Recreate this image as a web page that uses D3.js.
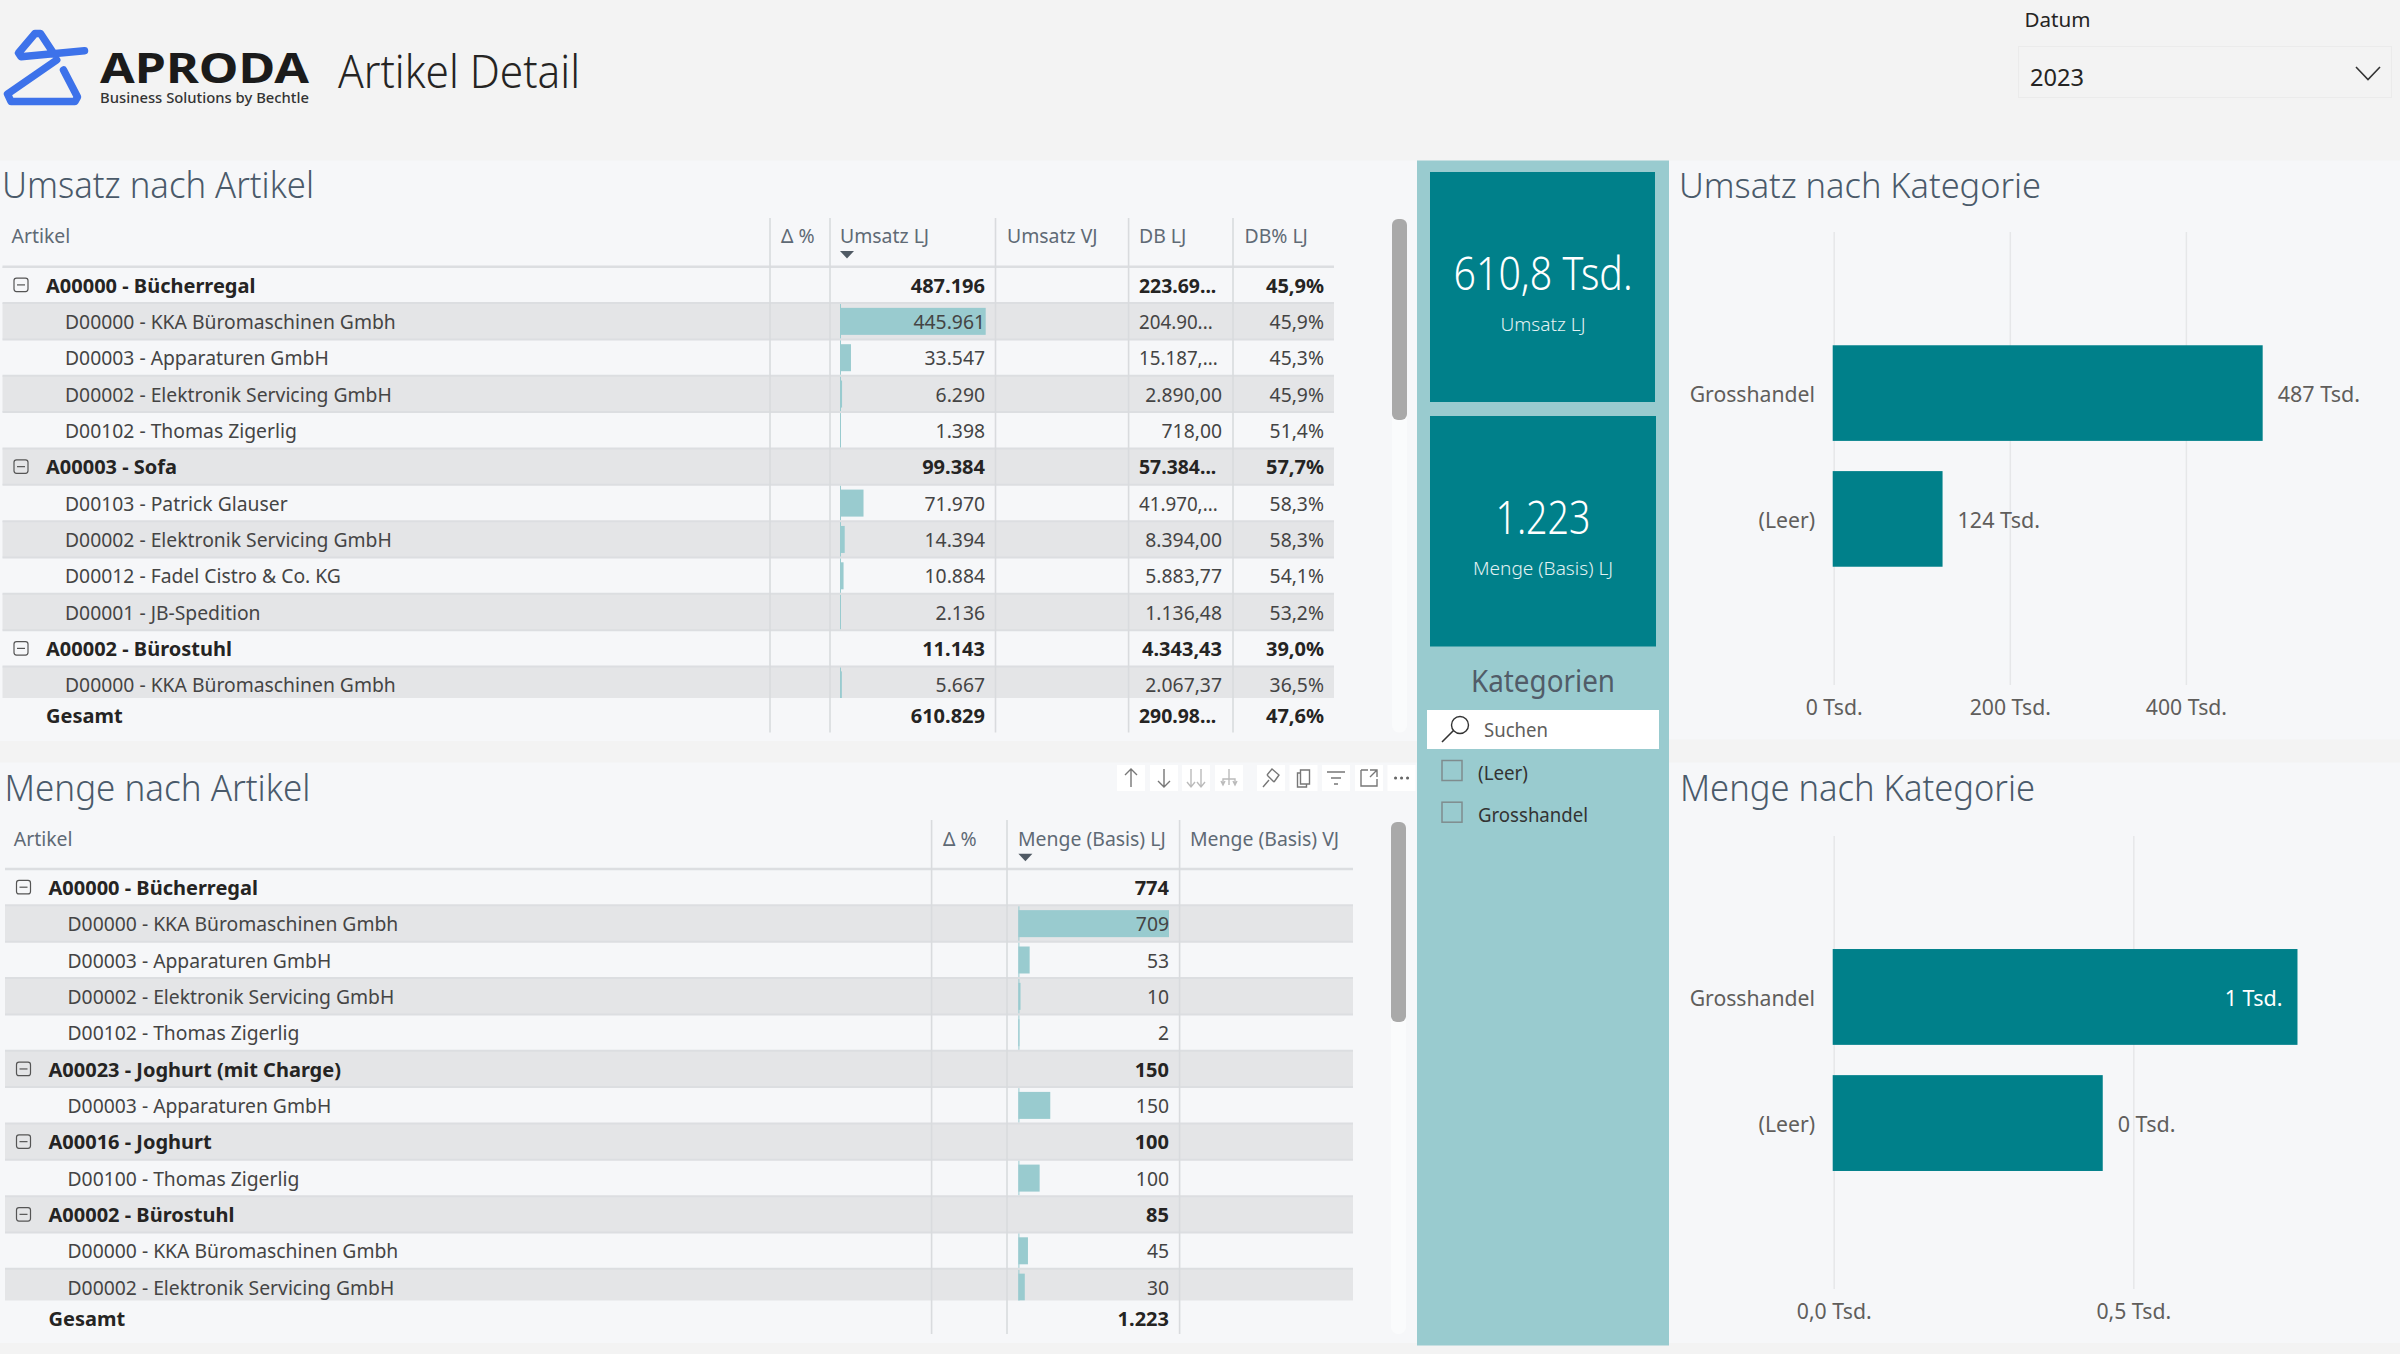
<!DOCTYPE html>
<html><head><meta charset="utf-8">
<script src="https://cdnjs.cloudflare.com/ajax/libs/d3/7.8.5/d3.min.js"></script>
<style>html,body{margin:0;padding:0;background:#f3f3f3;overflow:hidden}svg{display:block}text{font-family:"Noto Sans",sans-serif}</style>
</head><body><svg id="c" width="2400" height="1354"></svg>
<script>
// ---- data ----
const umsatzNames = ["A00000 - Bücherregal","D00000 - KKA Büromaschinen Gmbh","D00003 - Apparaturen GmbH","D00002 - Elektronik Servicing GmbH","D00102 - Thomas Zigerlig","A00003 - Sofa","D00103 - Patrick Glauser","D00002 - Elektronik Servicing GmbH","D00012 - Fadel Cistro & Co. KG","D00001 - JB-Spedition","A00002 - Bürostuhl","D00000 - KKA Büromaschinen Gmbh"];
const umsatzLevels = [0,1,1,1,1,0,1,1,1,1,0,1];
const umsatzLJ = [487196,445961,33547,6290,1398,99384,71970,14394,10884,2136,11143,5667];
const dbLJ = ["223.69...","204.90...","15.187,...","2.890,00","718,00","57.384...","41.970,...","8.394,00","5.883,77","1.136,48","4.343,43","2.067,37"];
const dbPct = ["45,9%","45,9%","45,3%","45,9%","51,4%","57,7%","58,3%","58,3%","54,1%","53,2%","39,0%","36,5%"];
const umsatzTotal = 610829, dbTotal = "290.98...", dbPctTotal = "47,6%";
const mengeNames = ["A00000 - Bücherregal","D00000 - KKA Büromaschinen Gmbh","D00003 - Apparaturen GmbH","D00002 - Elektronik Servicing GmbH","D00102 - Thomas Zigerlig","A00023 - Joghurt (mit Charge)","D00003 - Apparaturen GmbH","A00016 - Joghurt","D00100 - Thomas Zigerlig","A00002 - Bürostuhl","D00000 - KKA Büromaschinen Gmbh","D00002 - Elektronik Servicing GmbH"];
const mengeLevels = [0,1,1,1,1,0,1,0,1,0,1,1];
const mengeLJ = [774,709,53,10,2,150,150,100,100,85,45,30];
const mengeTotal = 1223;
const categories = ["Grosshandel","(Leer)"];
const umsatzCat = [487196,123633];
const mengeCat = [774,449];
const umsatzTicks = [0,200000,400000];
const mengeTicks = [0,500];
const kategorienList = ["(Leer)","Grosshandel"];

// ---- helpers ----
const K = 0.966, KB = 1.0;
const PANEL="#f6f7f9", TEAL="#00808a", LIGHT="#99cbcf", SHADE="#e4e5e7", LINE="#dcdee1", TXT="#3f3e3d", HEAD="#5f6a75";
const de = d3.formatLocale({decimal:",",thousands:".",grouping:[3]});
const fmt = de.format(",d"), svg = d3.select("#c");
function squeeze(sel,k=K){sel.each(function(){const l=this.getComputedTextLength();d3.select(this).attr("textLength",l*k).attr("lengthAdjust","spacingAndGlyphs");});return sel;}
function txt(g,x,y,s,o={}){
  const n=g.append("text").attr("x",x).attr("y",y).text(s).attr("font-size",o.size||20).attr("fill",o.fill||TXT)
    .attr("font-weight",o.weight||400).attr("text-anchor",o.anchor||"start");
  if(o.w) n.attr("textLength",o.w).attr("lengthAdjust","spacingAndGlyphs"); else squeeze(n,o.k||K);
  return n;
}
function rect(g,x,y,w,h,f){return g.append("rect").attr("x",x).attr("y",y).attr("width",w).attr("height",h).attr("fill",f);}

// ---- page panels ----
rect(svg,0,160.5,1417,580.5,PANEL);
rect(svg,0,762.5,1417,580.5,PANEL);
rect(svg,1669,160.5,731,579,PANEL);
rect(svg,1669,762.5,731,580.5,PANEL);
rect(svg,1417,160.5,252,1185,LIGHT);

// ---- header ----
const logo=svg.append("g").attr("fill","none").attr("stroke","#3d72ea").attr("stroke-width",7.5).attr("stroke-linejoin","round").attr("stroke-linecap","round");
const line=d3.line().curve(d3.curveLinear);
logo.append("path").attr("d",line([[63.5,70],[77.5,97],[75,101.5],[11,101.5],[7.5,94],[56.7,60]]));
logo.append("path").attr("d",line([[84.5,50.7],[21,56.7],[18.5,53],[35,33.5],[40.5,33.5],[54,54]]));
txt(svg,100,83,"APRODA",{size:42,weight:700,fill:"#1b1b1b",w:209});
txt(svg,100,102.5,"Business Solutions by Bechtle",{size:14.5,weight:500,fill:"#333",w:209});
txt(svg,338,88,"Artikel Detail",{size:46,weight:300,fill:"#252423",w:242});
txt(svg,2024.5,27,"Datum",{size:20,weight:400,fill:"#252423",w:66});
svg.append("rect").attr("x",2018.5).attr("y",46.5).attr("width",373).attr("height",51).attr("fill","none").attr("stroke","#ebebeb");
txt(svg,2030,85.5,"2023",{size:23,fill:"#252423",w:54});
svg.append("path").attr("d","M2356,67L2368,79.5L2380,67").attr("fill","none").attr("stroke","#333").attr("stroke-width",1.6);

// ---- tables ----
function table(c){
  const g=svg.append("g");
  const id="clip"+c.id;
  const rows=d3.scaleBand().domain(d3.range(c.names.length)).range([c.top,c.top+c.names.length*c.rowH]);
  svg.append("defs").append("clipPath").attr("id",id).append("rect").attr("x",0).attr("y",c.top).attr("width",1400).attr("height",c.rowsEnd-c.top);
  const body=g.append("g").attr("clip-path",`url(#${id})`);
  const right=c.cols[c.cols.length-1];
  // stripes and separators
  body.selectAll("rect.st").data(c.names).join("rect").attr("class","st").attr("x",c.left).attr("width",right-c.left)
    .attr("y",(d,i)=>rows(i)).attr("height",rows.bandwidth()).attr("fill",(d,i)=>i%2?SHADE:"none");
  body.selectAll("line.sep").data(c.names).join("line").attr("class","sep").attr("x1",c.left).attr("x2",right)
    .attr("y1",(d,i)=>rows(i)).attr("y2",(d,i)=>rows(i)).attr("stroke",LINE).attr("stroke-width",2);
  // data bars
  const x=d3.scaleLinear().domain([0,d3.max(c.values.filter((v,i)=>c.levels[i]))]).range([c.barX,c.barEnd]);
  const kids=c.values.map((v,i)=>({v,i})).filter(d=>c.levels[d.i]);
  body.selectAll("line.ax").data(kids).join("line").attr("class","ax").attr("x1",c.barX+.5).attr("x2",c.barX+.5)
    .attr("y1",d=>rows(d.i)+1).attr("y2",d=>rows(d.i)+rows.bandwidth()-1).attr("stroke",LIGHT).attr("stroke-width",1);
  body.selectAll("rect.bar").data(kids).join("rect").attr("class","bar").attr("x",x(0)).attr("fill",LIGHT)
    .attr("y",d=>rows(d.i)+4.8).attr("height",27).attr("width",d=>Math.max(1,x(d.v)-x(0)));
  // labels
  const base=i=>rows(i)+25.9;
  c.names.forEach((n,i)=>{
    const lvl=c.levels[i], bold=lvl?400:700, fill=lvl?"#444":"#252423", kb=lvl?K:KB;
    if(!lvl){
      g.append("rect").attr("x",c.left+11.5).attr("y",base(i)-14.5).attr("width",14).attr("height",13.5).attr("rx",2.5).attr("fill","none").attr("stroke","#555").attr("stroke-width",1.2);
      g.append("line").attr("x1",c.left+14.5).attr("x2",c.left+22.5).attr("y1",base(i)-7.7).attr("y2",base(i)-7.7).attr("stroke","#555").attr("stroke-width",1.2);
    }
    txt(body,lvl?c.left+62.5:c.left+43.5,base(i),n,{weight:bold,fill,k:kb});
    txt(body,c.numR,base(i),fmt(c.values[i]),{weight:bold,fill,anchor:"end",k:kb});
    if(c.db){
      const s=c.db[i];
      if(s.endsWith("...")) txt(body,c.dbL,base(i),s,{weight:bold,fill,k:kb*.97});
      else txt(body,c.dbR,base(i),s,{weight:bold,fill,anchor:"end",k:kb});
      txt(body,c.pctR,base(i),c.pct[i],{weight:bold,fill,anchor:"end",k:kb});
    }
  });
  // header
  c.heads.forEach(h=>txt(g,h[1],c.headBase,h[0],{size:19.5,fill:HEAD,k:.995}));
  g.append("path").attr("d",`M${c.barX},${c.headBase+8}h14l-7,7.5z`).attr("fill","#505a64");
  g.append("line").attr("x1",c.left).attr("x2",right).attr("y1",c.top).attr("y2",c.top).attr("stroke",LINE).attr("stroke-width",2.5);
  c.cols.slice(0,-1).forEach(v=>g.append("line").attr("x1",v).attr("x2",v).attr("y1",c.headTop).attr("y2",c.totalEnd).attr("stroke","#d9dbde").attr("stroke-width",1.6));
  // totals
  const tb=c.totalBase;
  txt(g,c.left+43.5,tb,"Gesamt",{weight:700,fill:"#252423",k:KB});
  txt(g,c.numR,tb,fmt(c.total),{weight:700,fill:"#252423",anchor:"end",k:KB});
  if(c.db){ txt(g,c.dbL,tb,c.dbTotal,{weight:700,fill:"#252423",k:KB*.97}); txt(g,c.pctR,tb,c.pctTotal,{weight:700,fill:"#252423",anchor:"end",k:KB}); }
  // scrollbar
  rect(g,c.sbX,c.sbTop,15,c.totalEnd-c.sbTop,"#fafbfc").attr("rx",7);
  rect(g,c.sbX,c.sbTop,15,c.sbEnd-c.sbTop,"#a9a9a9").attr("rx",6);
}
table({id:1,names:umsatzNames,levels:umsatzLevels,values:umsatzLJ,db:dbLJ,pct:dbPct,total:umsatzTotal,dbTotal,pctTotal:dbPctTotal,
  left:2.5,top:266.7,rowH:36.35,rowsEnd:698,totalEnd:732.5,headTop:218,headBase:243,totalBase:723,
  cols:[770,830,995.5,1128.6,1233,1334],barX:840,barEnd:985.7,numR:985,dbL:1139,dbR:1222,pctR:1324,
  heads:[["Artikel",11.5],["Δ %",781],["Umsatz LJ",840],["Umsatz VJ",1007],["DB LJ",1139],["DB% LJ",1244.5]],sbX:1392,sbTop:219,sbEnd:420});
table({id:2,names:mengeNames,levels:mengeLevels,values:mengeLJ,total:mengeTotal,
  left:5,top:869,rowH:36.35,rowsEnd:1300.5,totalEnd:1334,headTop:820,headBase:845.7,totalBase:1326,
  cols:[931.6,1007,1179.6,1353],barX:1018.4,barEnd:1169,numR:1169,
  heads:[["Artikel",13.8],["Δ %",943],["Menge (Basis) LJ",1018],["Menge (Basis) VJ",1190]],sbX:1391,sbTop:822,sbEnd:1022});

// ---- titles ----
const TITLE="#4a5a6a";
txt(svg,2,198,"Umsatz nach Artikel",{size:37,weight:300,fill:TITLE,w:312});
txt(svg,4.5,800.7,"Menge nach Artikel",{size:37,weight:300,fill:TITLE,w:306});
txt(svg,1679,198,"Umsatz nach Kategorie",{size:35,weight:300,fill:TITLE,w:362});
txt(svg,1680,800.7,"Menge nach Kategorie",{size:37,weight:300,fill:TITLE,w:355});

// ---- toolbar ----
const tools=[["M0,-9V9M-6,-3L0,-9L6,-3","#777"],["M0,9V-9M-6,3L0,9L6,3","#777"],["M-5,-9V9M-9,4L-5,9L-1,4M5,-9V9M1,4L5,9L9,4","#bbb"],["M0,-9V7M-6,7V1H6V7M-8,3L-6,7L-4,3M4,3L6,7L8,3","#bbb"],
 ["M-8,9L-2,2M-4,-3L3,4M-4,-3L1,-9L8,-3L3,4","#777"],["M-6,-5H-3V-8H6V6H3V9H-6ZM-3,-5V6H3","#777"],["M-9,-6H9M-5,0H5M-2,6H2","#777"],["M-8,-8H-1M-8,-8V8H8V1M1,-8H8V-1M8,-8L1,-1","#777"],["M-6,0h.1M0,0h.1M6,0h.1","#666"]];
const toolX=[1131,1164,1196,1229,1271,1303.5,1336,1369,1401.5];
tools.forEach((t,i)=>{const g=svg.append("g").attr("transform",`translate(${toolX[i]},778)`);
  rect(g,-14,-13,28,26,"#ffffff");
  g.append("path").attr("d",t[0]).attr("fill","none").attr("stroke",t[1]).attr("stroke-width",i==8?3:1.4).attr("stroke-linecap",i==8?"round":"butt");});

// ---- KPI cards & slicer ----
rect(svg,1430,172,225,230,TEAL);
rect(svg,1430,416,226,230.5,TEAL);
txt(svg,1543,289.5,de.format(",.1f")(umsatzTotal/1000)+" Tsd.",{size:46,weight:300,fill:"#fff",anchor:"middle",w:179});
txt(svg,1543,331,"Umsatz LJ",{size:18,weight:300,fill:"#e3f2f3",anchor:"middle",w:85});
txt(svg,1543,534,fmt(mengeTotal),{size:46,weight:300,fill:"#fff",anchor:"middle",w:95});
txt(svg,1543,575,"Menge (Basis) LJ",{size:18,weight:300,fill:"#e3f2f3",anchor:"middle",w:140});
txt(svg,1543,692,"Kategorien",{size:30,fill:"#515c68",anchor:"middle",w:144});
rect(svg,1427,710,232,39,"#ffffff");
svg.append("circle").attr("cx",1460).attr("cy",725).attr("r",8.5).attr("fill","none").attr("stroke","#333").attr("stroke-width",1.4);
svg.append("path").attr("d","M1453.5,730.5L1442,742").attr("stroke","#333").attr("stroke-width",1.6);
txt(svg,1484,737,"Suchen",{size:19,fill:"#605e5c",w:64});
const listW=[50,110];
kategorienList.forEach((s,i)=>{
  const y=760.5+i*41.7;
  svg.append("rect").attr("x",1442).attr("y",y).attr("width",20).attr("height",20).attr("fill","none").attr("stroke","#7f8c8e").attr("stroke-width",1.5);
  txt(svg,1478,y+19.5,s,{size:19.5,fill:"#333",w:listW[i]});
});

// ---- category bar charts ----
function catChart(c){
  const g=svg.append("g");
  const x=d3.scaleLinear().domain(c.xd).range(c.xr);
  const y=d3.scaleBand().domain(categories).range(c.yr).paddingInner(.24).paddingOuter(.92);
  const ax=d3.axisBottom(x).tickValues(c.ticks).tickFormat(c.tf).tickSize(c.gridBottom-c.gridTop).tickPadding(0);
  const a=g.append("g").attr("transform",`translate(0,${c.gridTop})`).call(ax);
  a.select(".domain").remove();
  a.selectAll("line").attr("stroke","#e6e7e9").attr("stroke-width",1.5);
  a.selectAll("text").attr("y",c.gridBottom-c.gridTop+29.5).attr("dy",0).attr("font-size",21.5).attr("fill","#605e5c").call(squeeze,.985);
  g.selectAll("rect.b").data(c.values).join("rect").attr("class","b").attr("x",c.xr[0]-1).attr("fill",TEAL)
    .attr("y",(d,i)=>y(categories[i])).attr("height",y.bandwidth()).attr("width",d=>x(d)-c.xr[0]+1);
  const ay=d3.axisLeft(y).tickSize(0).tickPadding(0);
  const l=g.append("g").attr("transform",`translate(1815,2)`).call(ay);
  l.select(".domain").remove();
  l.selectAll("text").attr("font-size",21.5).attr("fill","#605e5c").call(squeeze,.985);
  c.values.forEach((v,i)=>{
    const yy=y(categories[i])+y.bandwidth()/2+9, s=c.lf(v);
    if(c.inside[i]) txt(g,x(v)-15,yy,s,{size:21.5,fill:"#fff",anchor:"end",k:1});
    else txt(g,x(v)+15,yy,s,{size:21.5,fill:"#605e5c",k:1});
  });
}
const tsd=v=>Math.round(v/1000)+" Tsd.";
catChart({xd:[0,400000],xr:[1833.7,2185.9],yr:[229.5,682.5],gridTop:232,gridBottom:685,values:umsatzCat,ticks:umsatzTicks,inside:[false,false],
  tf:v=>(v/1000)+" Tsd.",lf:tsd});
catChart({xd:[0,500],xr:[1833.7,2133.3],yr:[833,1287],gridTop:836,gridBottom:1289,values:mengeCat,ticks:mengeTicks,inside:[true,false],
  tf:v=>de.format(",.1f")(v/1000)+" Tsd.",lf:tsd});
</script></body></html>
